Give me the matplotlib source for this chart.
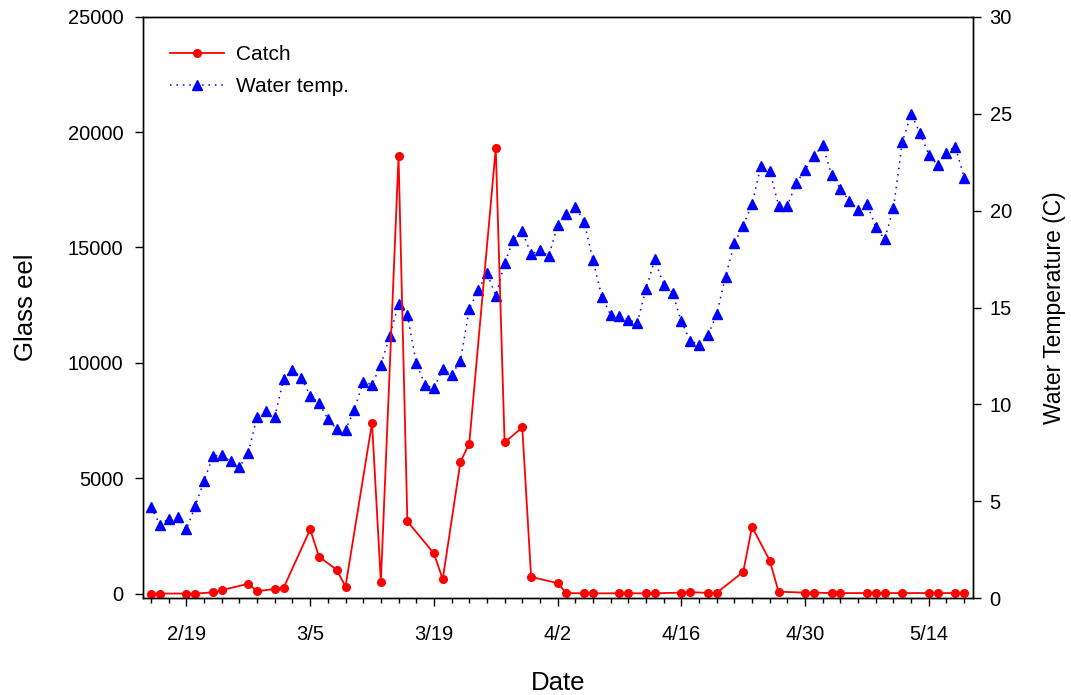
import matplotlib
matplotlib.use("Agg")
import matplotlib.pyplot as plt
import pandas as pd

plt.rcParams['font.family'] = ['Liberation Sans', 'DejaVu Sans']

year = 2015

# catch days (m/d) and glass eel counts
catch_dates = ['2/15', '2/16', '2/19', '2/20', '2/22', '2/23', '2/26', '2/27', '3/1', '3/2',
               '3/5', '3/6', '3/8', '3/9', '3/12', '3/13', '3/15', '3/16', '3/19', '3/20',
               '3/22', '3/23', '3/26', '3/27', '3/29', '3/30', '4/2', '4/3', '4/5', '4/6',
               '4/9', '4/10', '4/12', '4/13', '4/16', '4/17', '4/19', '4/20', '4/23', '4/24',
               '4/26', '4/27', '4/30', '5/1', '5/3', '5/4', '5/7', '5/8', '5/9', '5/11',
               '5/14', '5/15', '5/17', '5/18']
catch = [0, 0, 0, 0, 50, 150, 420, 100, 200, 250,
         2780, 1600, 1030, 300, 7400, 500, 18950, 3130, 1740, 620,
         5700, 6500, 19300, 6550, 7200, 720, 450, 20, 10, 10,
         10, 10, 10, 10, 40, 60, 30, 30, 940, 2890,
         1430, 80, 40, 40, 20, 20, 20, 20, 20, 20,
         20, 20, 20, 20]

# daily water temperature, 2/15 .. 5/18
temp_first, temp_last = '2/15', '5/18'
temp = [4.71, 3.80, 4.11, 4.18, 3.56, 4.76, 6.08, 7.32, 7.41, 7.06,
        6.77, 7.51, 9.38, 9.68, 9.37, 11.31, 11.79, 11.38, 10.45, 10.07,
        9.26, 8.73, 8.70, 9.73, 11.17, 11.02, 12.05, 13.51, 15.18, 14.61,
        12.15, 11.00, 10.83, 11.84, 11.53, 12.25, 14.92, 15.88, 16.77, 15.62,
        17.29, 18.49, 18.95, 17.75, 17.96, 17.66, 19.26, 19.81, 20.21, 19.42,
        17.44, 15.55, 14.62, 14.54, 14.38, 14.19, 15.96, 17.49, 16.15, 15.77,
        14.28, 13.28, 13.09, 13.56, 14.66, 16.60, 18.32, 19.23, 20.33, 22.32,
        22.06, 20.26, 20.26, 21.41, 22.11, 22.82, 23.37, 21.84, 21.12, 20.50,
        20.04, 20.36, 19.14, 18.53, 20.12, 23.54, 24.97, 24.00, 22.89, 22.36,
        22.99, 23.30, 21.70]

tick_labels = ['2/19', '3/5', '3/19', '4/2', '4/16', '4/30', '5/14']


def to_date(md):
    return pd.to_datetime(f"{year}/{md}", format="%Y/%m/%d")


catch_x = [to_date(d) for d in catch_dates]
temp_x = pd.date_range(to_date(temp_first), to_date(temp_last), freq='D')
major = [to_date(d) for d in tick_labels]
minor = pd.date_range(to_date('2/15'), to_date('5/18'), freq='2D')

fig = plt.figure(figsize=(10.71, 6.95), dpi=100)
ax = fig.add_axes([0.1335, 0.139, 0.775, 0.837])
ax2 = ax.twinx()

l1, = ax.plot(catch_x, catch, color='red', lw=1.3, marker='o', ms=5.5,
              label='Catch', clip_on=False)
l2, = ax2.plot(temp_x, temp, color='blue', lw=1.1, ls=(0, (1, 3.2)), marker='^',
               ms=6.5, label='Water temp.')

# catch line on top of temperature
ax.set_zorder(ax2.get_zorder() + 1)
ax.patch.set_visible(False)

ax.set_xlim(to_date('2/14') + pd.Timedelta(hours=2), to_date('5/19'))
ax.set_ylim(-210, 25000)
ax2.set_ylim(0, 30)
ax.set_yticks(range(0, 25001, 5000))
ax2.set_yticks(range(0, 31, 5))

ax.set_xticks(major)
ax.set_xticklabels(tick_labels)
ax.set_xticks(minor, minor=True)

ax.tick_params(axis='x', which='major', direction='out', length=6, width=1, labelsize=14.5, pad=13)
ax.tick_params(axis='x', which='minor', direction='out', length=3.5, width=1)
ax.tick_params(axis='y', direction='out', length=6, width=1, labelsize=14.5, pad=8)
ax2.tick_params(axis='y', direction='out', length=6, width=1, labelsize=14.5, pad=6)

for a in (ax, ax2):
    for s in a.spines.values():
        s.set_linewidth(1.0)

ax.set_xlabel('Date', fontsize=18.5)
ax.set_ylabel('Glass eel', fontsize=18.5)
ax2.set_ylabel('Water Temperature (C)', fontsize=16.5, labelpad=22)
ax.xaxis.set_label_coords(0.5, -0.125)
ax.yaxis.set_label_coords(-0.127, 0.5)

ax.legend(handles=[l1, l2], loc='upper left', bbox_to_anchor=(0.01, 0.983),
          frameon=False, fontsize=15, handlelength=2.6, handletextpad=0.55,
          labelspacing=0.6)

fig.savefig('out.png', dpi=100)
